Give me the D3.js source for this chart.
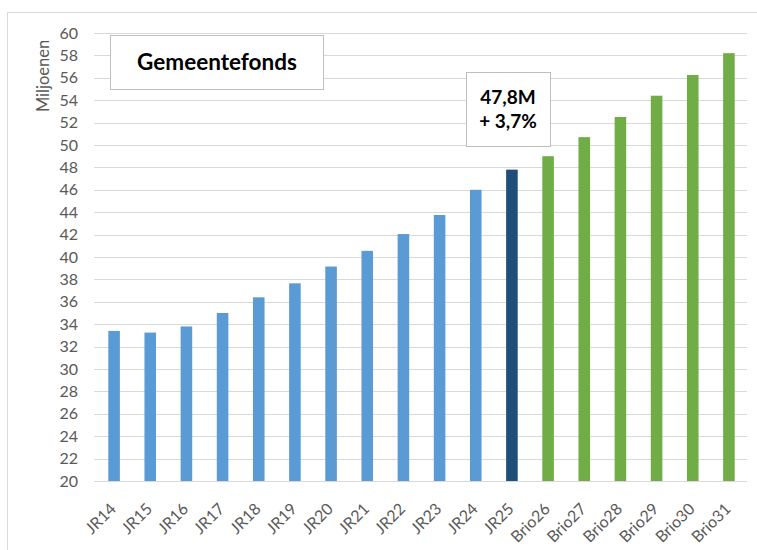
<!DOCTYPE html>
<html><head><meta charset="utf-8">
<script src="https://cdn.jsdelivr.net/npm/d3@7"></script>
<style>body{margin:0;background:#fff;} svg{display:block;}</style>
</head><body>
<script>
const categories = ["JR14","JR15","JR16","JR17","JR18","JR19","JR20","JR21","JR22","JR23","JR24","JR25","Brio26","Brio27","Brio28","Brio29","Brio30","Brio31"];
const values = [33.4,33.25,33.8,35.0,36.4,37.65,39.15,40.55,42.05,43.75,46.0,47.8,49.0,50.7,52.5,54.4,56.25,58.2];
const groups = ["hist","hist","hist","hist","hist","hist","hist","hist","hist","hist","hist","current","proj","proj","proj","proj","proj","proj"];
const yTicks = [20,22,24,26,28,30,32,34,36,38,40,42,44,46,48,50,52,54,56,58,60];
const yLabel = "Miljoenen";
const title = "Gemeentefonds";
const annotation = ["47,8M","+ 3,7%"];

const colors = {hist:"#5B9BD5", current:"#1F4E79", proj:"#70AD47"};
const W = 757, H = 550;
const font = "Lato, 'Open Sans', sans-serif";
const svg = d3.select("body").append("svg").attr("width", W).attr("height", H);

// outer border
svg.append("rect").attr("x",7.5).attr("y",12.5).attr("width",W+5).attr("height",H+5)
  .attr("fill","none").attr("stroke","#D9D9D9");

const m = {l:96, r:10, t:33, b:69};
const x = d3.scaleBand().domain(categories).range([m.l, W-m.r]).paddingInner(0.68).paddingOuter(0.34);
const y = d3.scaleLinear().domain([20,60]).range([H-m.b, m.t]);

// gridlines
svg.append("g").selectAll("line").data(yTicks).join("line")
  .attr("x1", m.l-2).attr("x2", W-m.r)
  .attr("y1", d=>Math.round(y(d))+0.5).attr("y2", d=>Math.round(y(d))+0.5)
  .attr("stroke","#D9D9D9").attr("stroke-width",1);

// y axis labels
const yAxis = svg.append("g").attr("transform",`translate(${m.l-18},0)`)
  .call(d3.axisLeft(y).tickValues(yTicks).tickSize(0).tickPadding(0));
yAxis.select(".domain").remove();
yAxis.selectAll("text").attr("font-family",font).attr("font-size",16).attr("fill","#595959");

svg.append("text").attr("transform",`translate(49,76) rotate(-90)`)
  .attr("text-anchor","middle").attr("font-family",font).attr("font-size",16.5).attr("fill","#595959")
  .text(yLabel);

// bars
svg.append("g").selectAll("rect").data(categories).join("rect")
  .attr("x", d=>x(d)).attr("width", x.bandwidth())
  .attr("y", (d,i)=>y(values[i])).attr("height", (d,i)=>y(20)-y(values[i]))
  .attr("fill", (d,i)=>colors[groups[i]]);

// x axis labels
const xAxis = svg.append("g").attr("transform",`translate(0,${H-m.b})`)
  .call(d3.axisBottom(x).tickSize(0).tickPadding(0));
xAxis.select(".domain").remove();
xAxis.selectAll("text").attr("font-family",font).attr("font-size",16).attr("fill","#595959")
  .attr("text-anchor","end").attr("dy",0)
  .attr("transform","translate(3,29) rotate(-45)");

// title box
svg.append("rect").attr("x",110.5).attr("y",35.5).attr("width",213).attr("height",54)
  .attr("fill","#fff").attr("stroke","#BFBFBF");
svg.append("text").attr("x",217).attr("y",70).attr("text-anchor","middle")
  .attr("font-family",font).attr("font-weight","bold").attr("font-size",22.5).attr("fill","#000").text(title);

// annotation box
svg.append("rect").attr("x",466.5).attr("y",72.5).attr("width",84).attr("height",74)
  .attr("fill","#fff").attr("stroke","#BFBFBF");
svg.append("g").selectAll("text").data(annotation).join("text")
  .attr("x",508).attr("y",(d,i)=>104+i*24).attr("text-anchor","middle")
  .attr("font-family",font).attr("font-weight","bold").attr("font-size",19).attr("fill","#000").text(d=>d);
</script>
</body></html>
